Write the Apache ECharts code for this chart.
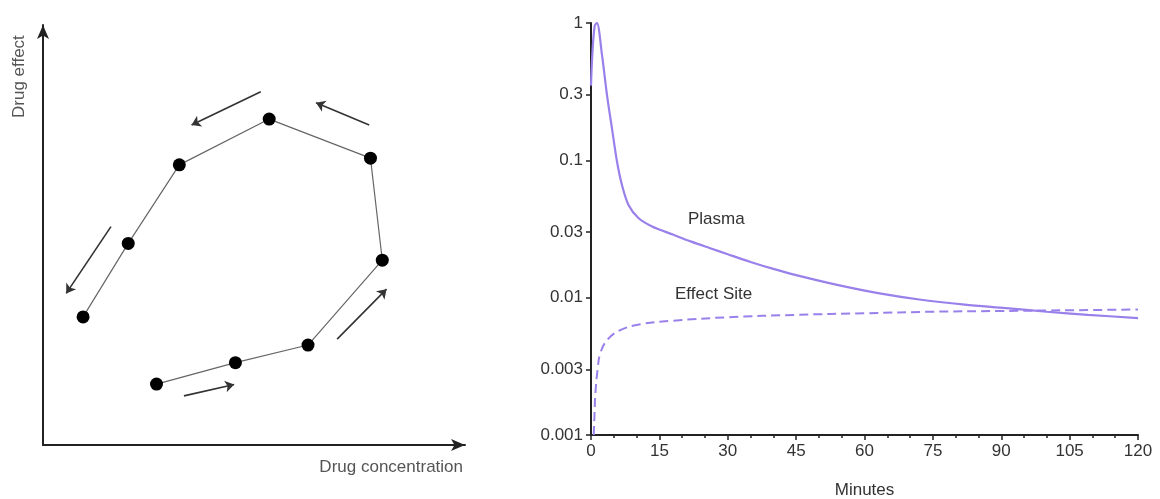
<!DOCTYPE html>
<html>
<head>
<meta charset="utf-8">
<script src="https://cdn.jsdelivr.net/npm/echarts@6/dist/echarts.min.js"></script>
<style>html,body{margin:0;padding:0;background:#fff;}#c{width:1160px;height:499px;}</style>
</head>
<body>
<div id="c"></div>
<script>
// Left panel: hysteresis loop (schematic, arbitrary units 0-100)
const loopX = [26.9, 45.6, 62.8, 80.4, 77.6, 53.6, 32.3, 20.2, 9.5];
const loopY = [14.5, 19.6, 23.8, 44.0, 68.3, 77.6, 66.7, 48.0, 30.5];
const arrowFrom = [[33.4, 11.7], [69.7, 25.2], [77.3, 76.2], [51.6, 84.1], [16.1, 52.0]];
const arrowTo   = [[45.3, 14.4], [81.4, 37.1], [64.7, 81.5], [35.2, 76.2], [5.5, 36.1]];

// Right panel: concentration vs time (log scale)
const plasmaT = [0, 0.3, 0.8, 1.3, 2.4, 3.5, 4.6, 5.7, 6.8, 8.2, 10.4, 13.4, 18.1, 22, 26, 30, 35, 40, 45, 54, 63, 72, 82, 91, 100, 109, 120];
const plasmaV = [0.35, 0.6, 0.95, 1.0, 0.59, 0.30, 0.171, 0.098, 0.066, 0.0475, 0.038, 0.033, 0.0287, 0.0256, 0.0230, 0.0207, 0.0182, 0.0162, 0.0146, 0.0124, 0.0108, 0.0097, 0.0089, 0.0084, 0.0079, 0.0075, 0.0071];
const effectT = [0.6, 0.8, 0.95, 1.45, 2, 3.5, 6.4, 10.8, 18, 30, 45, 60, 75, 90, 105, 120];
const effectV = [0.001, 0.0015, 0.002, 0.003, 0.0039, 0.0049, 0.0058, 0.0064, 0.0068, 0.0072, 0.0075, 0.0077, 0.0079, 0.0080, 0.0081, 0.0082];
const yTicks = [0.001, 0.003, 0.01, 0.03, 0.1, 0.3, 1];
const yTickLabels = ['0.001', '0.003', '0.01', '0.03', '0.1', '0.3', '1'];

const chart = echarts.init(document.getElementById('c'));
const purple = '#9a80ea';
const font = 'Liberation Sans, Arial, sans-serif';

const loopData = loopX.map((x, i) => [x, loopY[i]]);
const arrowData = arrowFrom.map((f, i) => ({coords: [f, arrowTo[i]]}));
const plasmaData = plasmaT.map((t, i) => [t, plasmaV[i]]);
const effectData = effectT.map((t, i) => [t, effectV[i]]);

chart.setOption({
  animation: false,
  backgroundColor: '#fff',
  grid: [
    {left: 43, right: 695, top: 25, bottom: 54, outerBoundsMode: 'none', containLabel: false},
    {left: 591, right: 22, top: 23, bottom: 64, outerBoundsMode: 'none', containLabel: false}
  ],
  xAxis: [
    {gridIndex: 0, type: 'value', min: 0, max: 100,
     axisLine: {show: true, lineStyle: {color: '#222', width: 2}, symbol: ['none', 'arrow'], symbolSize: [9, 14]},
     axisTick: {show: false}, axisLabel: {show: false}, splitLine: {show: false}},
    {gridIndex: 1, type: 'value', min: 0, max: 120, interval: 15,
     name: 'Minutes', nameLocation: 'middle', nameGap: 47,
     nameTextStyle: {fontFamily: font, fontSize: 17, color: '#333'},
     axisLine: {lineStyle: {color: '#222', width: 2}},
     axisTick: {length: 5, lineStyle: {color: '#222', width: 1.5}},
     minorTick: {show: true, splitNumber: 3, length: 3, lineStyle: {color: '#222', width: 1.5}},
     axisLabel: {fontFamily: font, fontSize: 17, color: '#333', margin: 8},
     splitLine: {show: false}}
  ],
  yAxis: [
    {gridIndex: 0, type: 'value', min: 0, max: 100,
     axisLine: {show: true, lineStyle: {color: '#222', width: 2}, symbol: ['none', 'arrow'], symbolSize: [9, 14]},
     axisTick: {show: false}, axisLabel: {show: false}, splitLine: {show: false}},
    {gridIndex: 1, type: 'log', logBase: 10, min: 0.001, max: 1,
     axisLine: {show: true, lineStyle: {color: '#222', width: 2}},
     axisTick: {show: true, length: 5, customValues: yTicks, lineStyle: {color: '#222', width: 1.5}},
     axisLabel: {fontFamily: font, fontSize: 17, color: '#333', margin: 8, customValues: yTicks,
       formatter: function (v) { const i = yTicks.findIndex(t => Math.abs(t - v) / t < 1e-6); return i >= 0 ? yTickLabels[i] : ''; }},
     minorTick: {show: false},
     splitLine: {show: false}}
  ],
  series: [
    {type: 'line', xAxisIndex: 0, yAxisIndex: 0, data: loopData,
     symbol: 'circle', symbolSize: 13, itemStyle: {color: '#000'},
     lineStyle: {color: '#666', width: 1.2}},
    {type: 'lines', coordinateSystem: 'cartesian2d', xAxisIndex: 0, yAxisIndex: 0,
     data: arrowData, symbol: ['none', 'arrow'], symbolSize: 9,
     lineStyle: {color: '#333', width: 1.6, opacity: 1}},
    {type: 'line', name: 'Plasma', xAxisIndex: 1, yAxisIndex: 1, data: plasmaData,
     smooth: 0.3, showSymbol: false, lineStyle: {color: purple, width: 2.2}},
    {type: 'line', name: 'Effect Site', xAxisIndex: 1, yAxisIndex: 1, data: effectData,
     smooth: 0.4, showSymbol: false, lineStyle: {color: purple, width: 2, type: [9, 5]}}
  ],
  graphic: [
    {type: 'text', left: 688, top: 211, style: {text: 'Plasma', font: '17px ' + font, fill: '#333'}},
    {type: 'text', left: 675, top: 286, style: {text: 'Effect Site', font: '17px ' + font, fill: '#333'}},
    {type: 'text', x: 19, y: 118, rotation: Math.PI / 2, style: {text: 'Drug effect', font: '17px ' + font, fill: '#555', align: 'left', verticalAlign: 'middle'}},
    {type: 'text', right: 697, top: 459, style: {text: 'Drug concentration', font: '17px ' + font, fill: '#555'}}
  ]
});
</script>
</body>
</html>
